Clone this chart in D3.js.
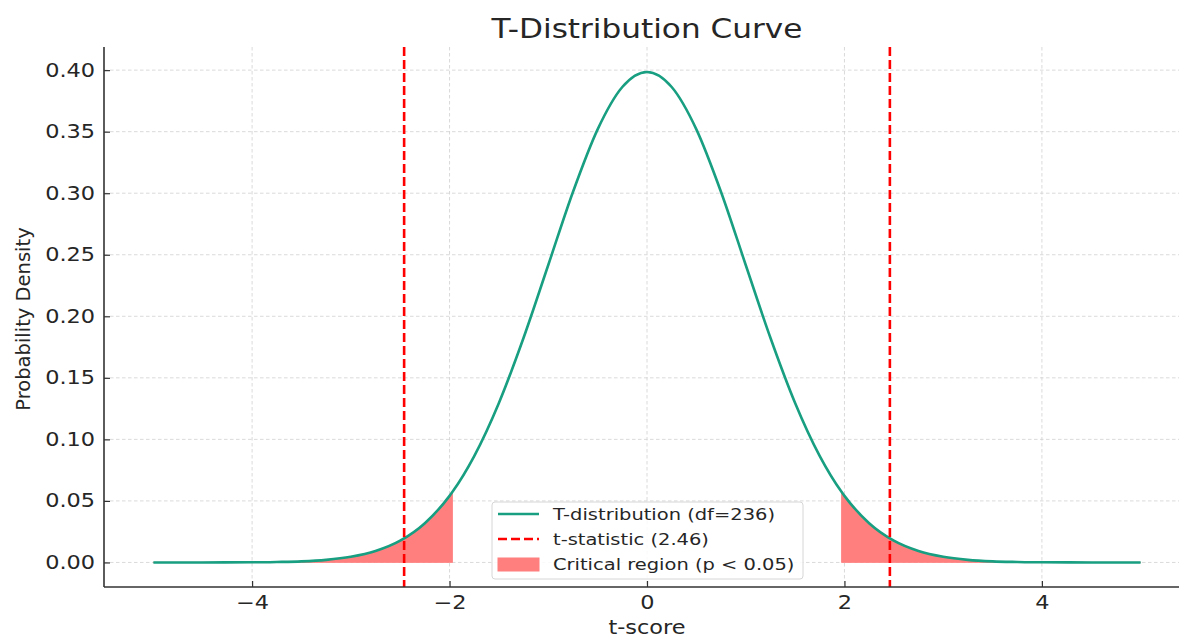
<!DOCTYPE html>
<html>
<head>
<meta charset="utf-8">
<script src="https://cdn.jsdelivr.net/npm/d3@7"></script>
<style>
  body { margin: 0; background: #fff; }
  text { font-family: "DejaVu Sans", sans-serif; fill: #262626; }
</style>
</head>
<body>
<svg id="chart" width="1179" height="635"></svg>
<script>
// t-scores and densities (df = 236)
var tScores = [-5, -4.5, -4, -3.75, -3.5, -3.25, -3, -2.75, -2.5, -2.25, -2, -1.97, -1.75, -1.5, -1.25, -1, -0.75, -0.5, -0.25, 0,
               0.25, 0.5, 0.75, 1, 1.25, 1.5, 1.75, 1.97, 2, 2.25, 2.5, 2.75, 3, 3.25, 3.5, 3.75, 4, 4.5, 5];
var densities = [0, 0, 0.0001, 0.0004, 0.0009, 0.0021, 0.0046, 0.0093, 0.0177, 0.0319, 0.0541, 0.0574, 0.0864, 0.1296, 0.1826, 0.2417, 0.3010, 0.3519, 0.3863, 0.3985,
                 0.3863, 0.3519, 0.3010, 0.2417, 0.1826, 0.1296, 0.0864, 0.0574, 0.0541, 0.0319, 0.0177, 0.0093, 0.0046, 0.0021, 0.0009, 0.0004, 0.0001, 0, 0];
var tStatistic = 2.46;
var criticalT = 1.97;
var xTicks = [-4, -2, 0, 2, 4];
var yTicks = [0, 0.05, 0.10, 0.15, 0.20, 0.25, 0.30, 0.35, 0.40];
var legendLabels = ["T-distribution (df=236)", "t-statistic (2.46)", "Critical region (p < 0.05)"];

var svg = d3.select("#chart");
var pLeft = 104, pRight = 1190, pTop = 47, pBottom = 587;
var stretch = "scale(1.18,1)"; // the picture is a bit wider than tall

var x = d3.scaleLinear().domain([-5.5, 5.5]).range([pLeft, pRight]);
var y = d3.scaleLinear().domain([-0.01995, 0.4188]).range([pBottom, pTop]);

var points = tScores.map(function(t, i){ return {t: t, d: densities[i]}; });

// grid
var grid = svg.append("g").attr("stroke", "#d0d0d0").attr("stroke-width", 0.8).attr("stroke-dasharray", "3.5,2.5");
xTicks.forEach(function(t){
  grid.append("line").attr("x1", x(t)).attr("x2", x(t)).attr("y1", pTop).attr("y2", pBottom);
});
yTicks.forEach(function(v){
  grid.append("line").attr("x1", pLeft).attr("x2", 1179).attr("y1", y(v)).attr("y2", y(v));
});

// critical region
var area = d3.area().x(function(p){ return x(p.t); }).y0(y(0)).y1(function(p){ return y(p.d); }).curve(d3.curveMonotoneX);
var tails = [
  points.filter(function(p){ return p.t <= -criticalT; }),
  points.filter(function(p){ return p.t >= criticalT; })
];
tails.forEach(function(tail){
  svg.append("path").attr("d", area(tail)).attr("fill", "#ff7f7f").attr("stroke", "#ff7f7f").attr("stroke-width", 0.8);
});

// the curve
var line = d3.line().x(function(p){ return x(p.t); }).y(function(p){ return y(p.d); }).curve(d3.curveMonotoneX);
svg.append("path").attr("d", line(points)).attr("fill", "none").attr("stroke", "#189e80").attr("stroke-width", 2.6);

// t-statistic lines
[-tStatistic, tStatistic].forEach(function(t){
  svg.append("line").attr("x1", x(t)).attr("x2", x(t)).attr("y1", pTop).attr("y2", pBottom)
    .attr("stroke", "red").attr("stroke-width", 2.6).attr("stroke-dasharray", "9,4");
});

// axes
var xAxis = d3.axisBottom(x).tickValues(xTicks).tickSizeInner(-6).tickSizeOuter(0).tickPadding(8.5)
  .tickFormat(function(d){ return d < 0 ? "\u2212" + Math.abs(d) : d; });
var gx = svg.append("g").attr("transform", "translate(0," + pBottom + ")").call(xAxis);
gx.select(".domain").attr("d", "M" + pLeft + ",0H1179").attr("stroke", "#333").attr("stroke-width", 1.6);

var yAxis = d3.axisLeft(y).tickValues(yTicks).tickSizeInner(-6).tickSizeOuter(0).tickPadding(7.6)
  .tickFormat(d3.format(".2f"));
var gy = svg.append("g").attr("transform", "translate(" + pLeft + ",0)").call(yAxis);
gy.select(".domain").attr("d", "M0," + pTop + "V" + pBottom).attr("stroke", "#333").attr("stroke-width", 1.6);

svg.selectAll(".tick line").attr("stroke", "#333").attr("stroke-width", 1.2);
svg.selectAll(".tick text").attr("font-size", 19).attr("fill", "#262626").attr("font-family", "DejaVu Sans")
  .attr("transform", stretch);

// titles
svg.append("text").attr("transform", "translate(647,38) " + stretch).attr("text-anchor", "middle").attr("font-size", 26.4).text("T-Distribution Curve");
svg.append("text").attr("transform", "translate(647,634) " + stretch).attr("text-anchor", "middle").attr("font-size", 19).text("t-score");
svg.append("text").attr("transform", "translate(30,319) rotate(-90)").attr("text-anchor", "middle").attr("font-size", 19.5).text("Probability Density");

// legend
var lg = svg.append("g").attr("transform", "translate(492,502)");
lg.append("rect").attr("width", 311).attr("height", 77).attr("rx", 3).attr("fill", "#fff").attr("fill-opacity", 0.85)
  .attr("stroke", "#d6d6d6").attr("stroke-width", 1);
legendLabels.forEach(function(label, i){
  var cy = 12 + i * 25;
  if (i === 0) lg.append("line").attr("x1", 6).attr("x2", 47).attr("y1", cy).attr("y2", cy).attr("stroke", "#189e80").attr("stroke-width", 2.6);
  if (i === 1) lg.append("line").attr("x1", 6).attr("x2", 47).attr("y1", cy).attr("y2", cy).attr("stroke", "red").attr("stroke-width", 2.6).attr("stroke-dasharray", "9,4");
  if (i === 2) lg.append("rect").attr("x", 6).attr("y", cy - 6).attr("width", 41).attr("height", 13).attr("fill", "#ff7f7f").attr("stroke", "#ff7f7f");
  lg.append("text").attr("transform", "translate(61," + (cy + 6) + ") " + stretch).attr("font-size", 16.5).text(label);
});
</script>
</body>
</html>
